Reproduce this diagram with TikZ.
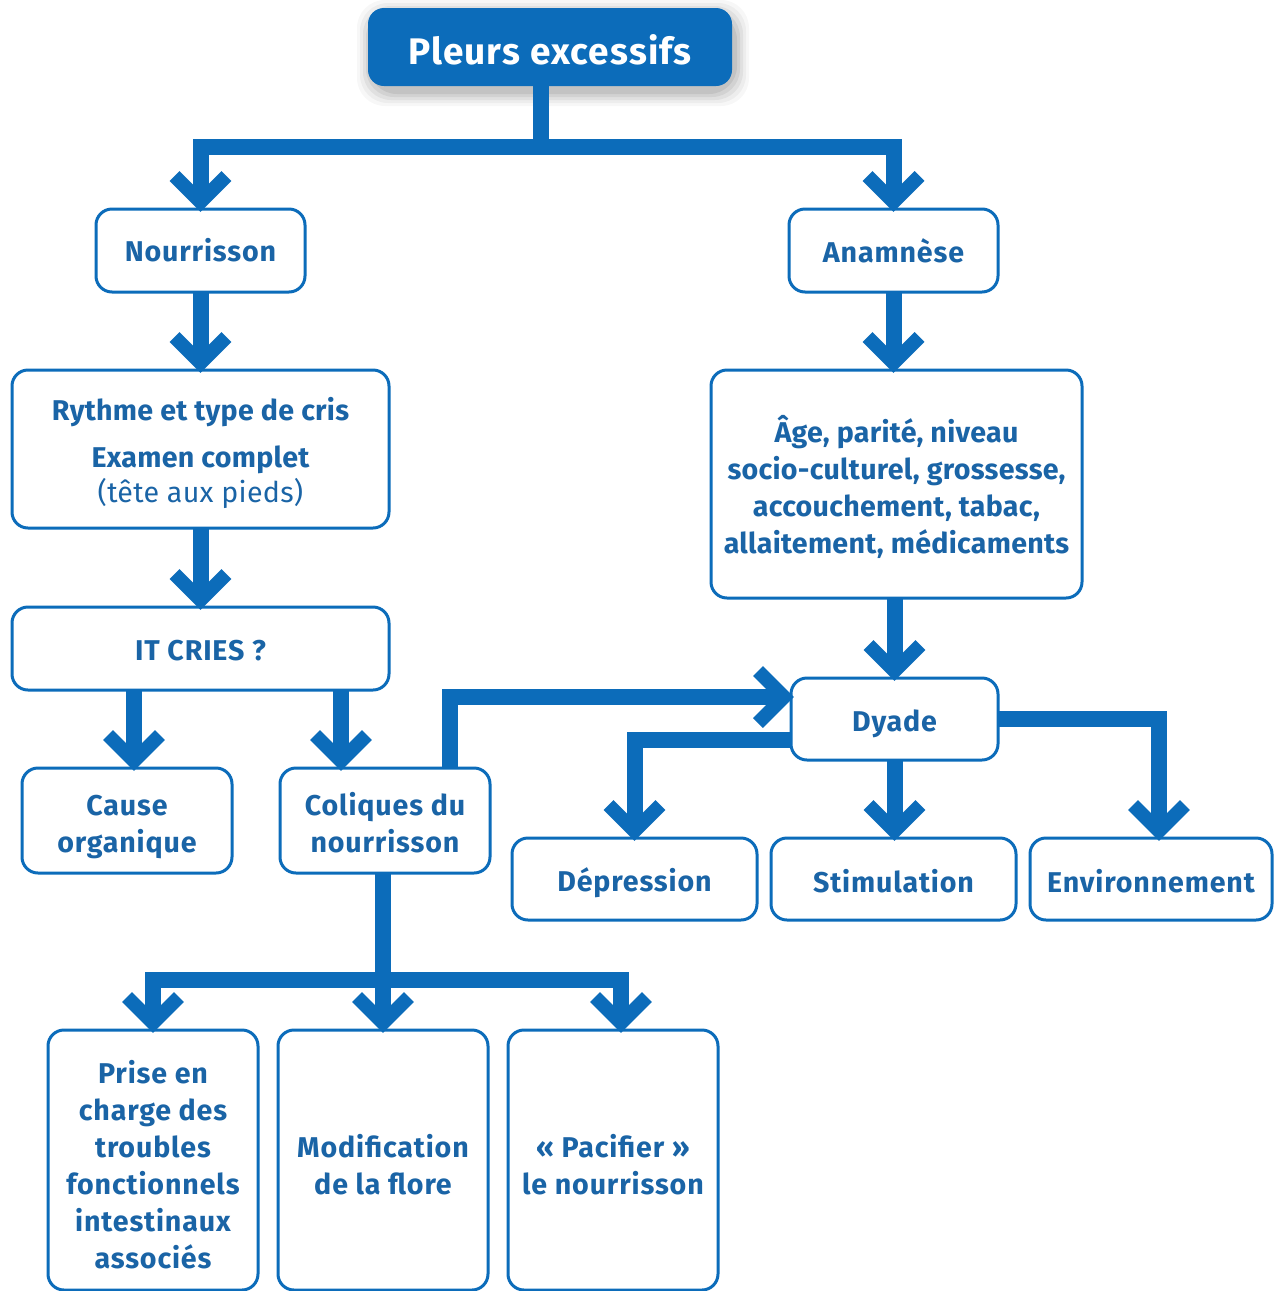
\documentclass[tikz,border=0pt]{standalone}
\usepackage{fontspec}
\setmainfont{Fira Sans}[LetterSpace=3]
\newfontfamily\tightfont{Fira Sans}[LetterSpace=1]
\usetikzlibrary{calc}

\definecolor{lblue}{RGB}{12,108,186}
\definecolor{tblue}{RGB}{26,100,166}

% lower a block of centred lines inside its box without changing the box size
\newcommand\dropby[2]{\raisebox{-#1}[\height][\depth]{\begin{tabular}{@{}c@{}}#2\end{tabular}}}

\tikzset{
  box/.style={draw=lblue, line width=1.5pt, rounded corners=8pt, fill=white,
    text=tblue, font=\bfseries\fontsize{14.3}{18.5}\selectfont, align=center,
    inner sep=0pt, outer sep=0pt},
  headbox/.style={fill=lblue, rounded corners=8pt, text=white,
    font=\bfseries\fontsize{18.5}{22}\selectfont, inner sep=0pt, outer sep=0pt},
  conn/.style={draw=lblue, line width=8pt, line join=miter, line cap=butt, shorten >=6pt},
  chev/.pic={\draw[draw=lblue, line width=7pt, line join=miter, line cap=butt]
    (-26,-33) -- (0,-7) -- (26,-33);}
}

\begin{document}
\begin{tikzpicture}[x=0.5pt, y=-0.5pt]
\useasboundingbox (0,0) rectangle (1274,1291);
\fill[white] (0,0) rectangle (1274,1291);
\clip (0,0) rectangle (1274,1291);

% soft shadow under the title
\foreach \g/\o in {14/0.03,11/0.04,8/0.05,5/0.06,2/0.07}{
  \fill[black, opacity=\o, rounded corners=14pt]
    (368-\g+3,8-\g+6) rectangle (732+\g+3,86+\g+6);
}

% title
\node[headbox, minimum width=182pt, minimum height=39pt] (top) at (550,47) {\dropby{4.5pt}{Pleurs excessifs}};

% infant branch
\node[box, minimum width=104.5pt, minimum height=41.5pt] (nour) at (200.5,250.5) {Nourrisson};
\node[box, minimum width=188.5pt, minimum height=79pt] (ryth) at (200.5,449)
  {\tightfont\dropby{2.5pt}{Rythme et type de cris\\[5pt]Examen complet\\[-1pt]{\mdseries (tête aux pieds)}}};
\node[box, minimum width=188.5pt, minimum height=41.5pt] (it) at (200.5,648.5) {\dropby{2.5pt}{IT CRIES ?}};
\node[box, minimum width=105pt, minimum height=52.5pt] (cause) at (127,820.5) {\dropby{3pt}{Cause\\organique}};
\node[box, minimum width=105pt, minimum height=52.5pt] (col) at (385,820.5) {\dropby{3pt}{Coliques du\\nourrisson}};

% history branch
\node[box, minimum width=104.5pt, minimum height=41.5pt] (anam) at (893.5,250.5) {Anamnèse};
\node[box, minimum width=185.5pt, minimum height=114pt] (age) at (896.5,484)
  {\tightfont\dropby{2.75pt}{Âge, parité, niveau\\socio-culturel, grossesse,\\accouchement, tabac,\\allaitement, médicaments}};
\node[box, minimum width=103.5pt, minimum height=41pt] (dy) at (894.5,719) {\dropby{2.5pt}{Dyade}};
\node[box, minimum width=122.5pt, minimum height=41pt] (dep) at (634.5,879) {\dropby{2.5pt}{Dépression}};
\node[box, minimum width=122.5pt, minimum height=41pt] (stim) at (893.5,879) {\dropby{3pt}{Stimulation}};
\node[box, minimum width=121pt, minimum height=41pt] (env) at (1151,879) {\dropby{3pt}{Environnement}};

% colic management
\node[box, minimum width=105pt, minimum height=130pt] (prise) at (153,1160)
  {\dropby{4.5pt}{Prise en\\charge des\\troubles\\fonctionnels\\intestinaux\\associés}};
\node[box, minimum width=105pt, minimum height=130pt] (modif) at (383,1160)
  {\dropby{4.5pt}{Modification\\de la flore}};
\node[box, minimum width=105pt, minimum height=130pt] (pac) at (613,1160)
  {\dropby{4.5pt}{« Pacifier »\\le nourrisson}};

% helper points
\coordinate (split1) at ($(top.south)+(-9,61)$);
\coordinate (ca) at ($(cause.north)+(7,0)$);
\coordinate (cb) at ($(col.north)+(-44,0)$);
\coordinate (cc) at ($(col.north)+(65,0)$);
\coordinate (dyin) at ($(dy.west)+(0,-22)$);
\coordinate (dyl) at ($(dy.west)+(0,21)$);
\coordinate (envin) at ($(env.north)+(8,0)$);
\coordinate (split2) at ($(col.south)+(-2,107)$);
\coordinate (pacin) at ($(pac.north)+(8,0)$);

% connectors
\draw[conn, shorten >=0pt] ($(top.south)+(-9,0)$) -- (split1);
\draw[conn] (split1) -| (nour.north);
\draw[conn] (split1) -| (anam.north);
\draw[conn] (nour.south) -- (nour.south |- ryth.north);
\draw[conn] (ryth.south) -- (ryth.south |- it.north);
\draw[conn] (it.south -| ca) -- (ca);
\draw[conn] (it.south -| cb) -- (cb);
\draw[conn] (cc) |- (dyin);
\draw[conn] (anam.south) -- (anam.south |- age.north);
\draw[conn] (dy.north |- age.south) -- (dy.north);
\draw[conn] (dyl) -| (dep.north);
\draw[conn] (dy.south) -- (dy.south |- stim.north);
\draw[conn] (dy.east) -| (envin);
\draw[conn, shorten >=0pt] ($(col.south)+(-2,0)$) -- (split2);
\draw[conn] (split2) -| (prise.north);
\draw[conn] (split2) -- (split2 |- modif.north);
\draw[conn] (split2) -| (pacin);

% arrow heads
\pic at (nour.north) {chev};
\pic at (anam.north) {chev};
\pic at (nour.south |- ryth.north) {chev};
\pic at (ryth.south |- it.north) {chev};
\pic at (ca) {chev};
\pic at (cb) {chev};
\pic[rotate=90] at (dyin) {chev};
\pic at (anam.south |- age.north) {chev};
\pic at (dy.north) {chev};
\pic at (dep.north) {chev};
\pic at (dy.south |- stim.north) {chev};
\pic at (envin) {chev};
\pic at (prise.north) {chev};
\pic at (split2 |- modif.north) {chev};
\pic at (pacin) {chev};
\end{tikzpicture}
\end{document}
